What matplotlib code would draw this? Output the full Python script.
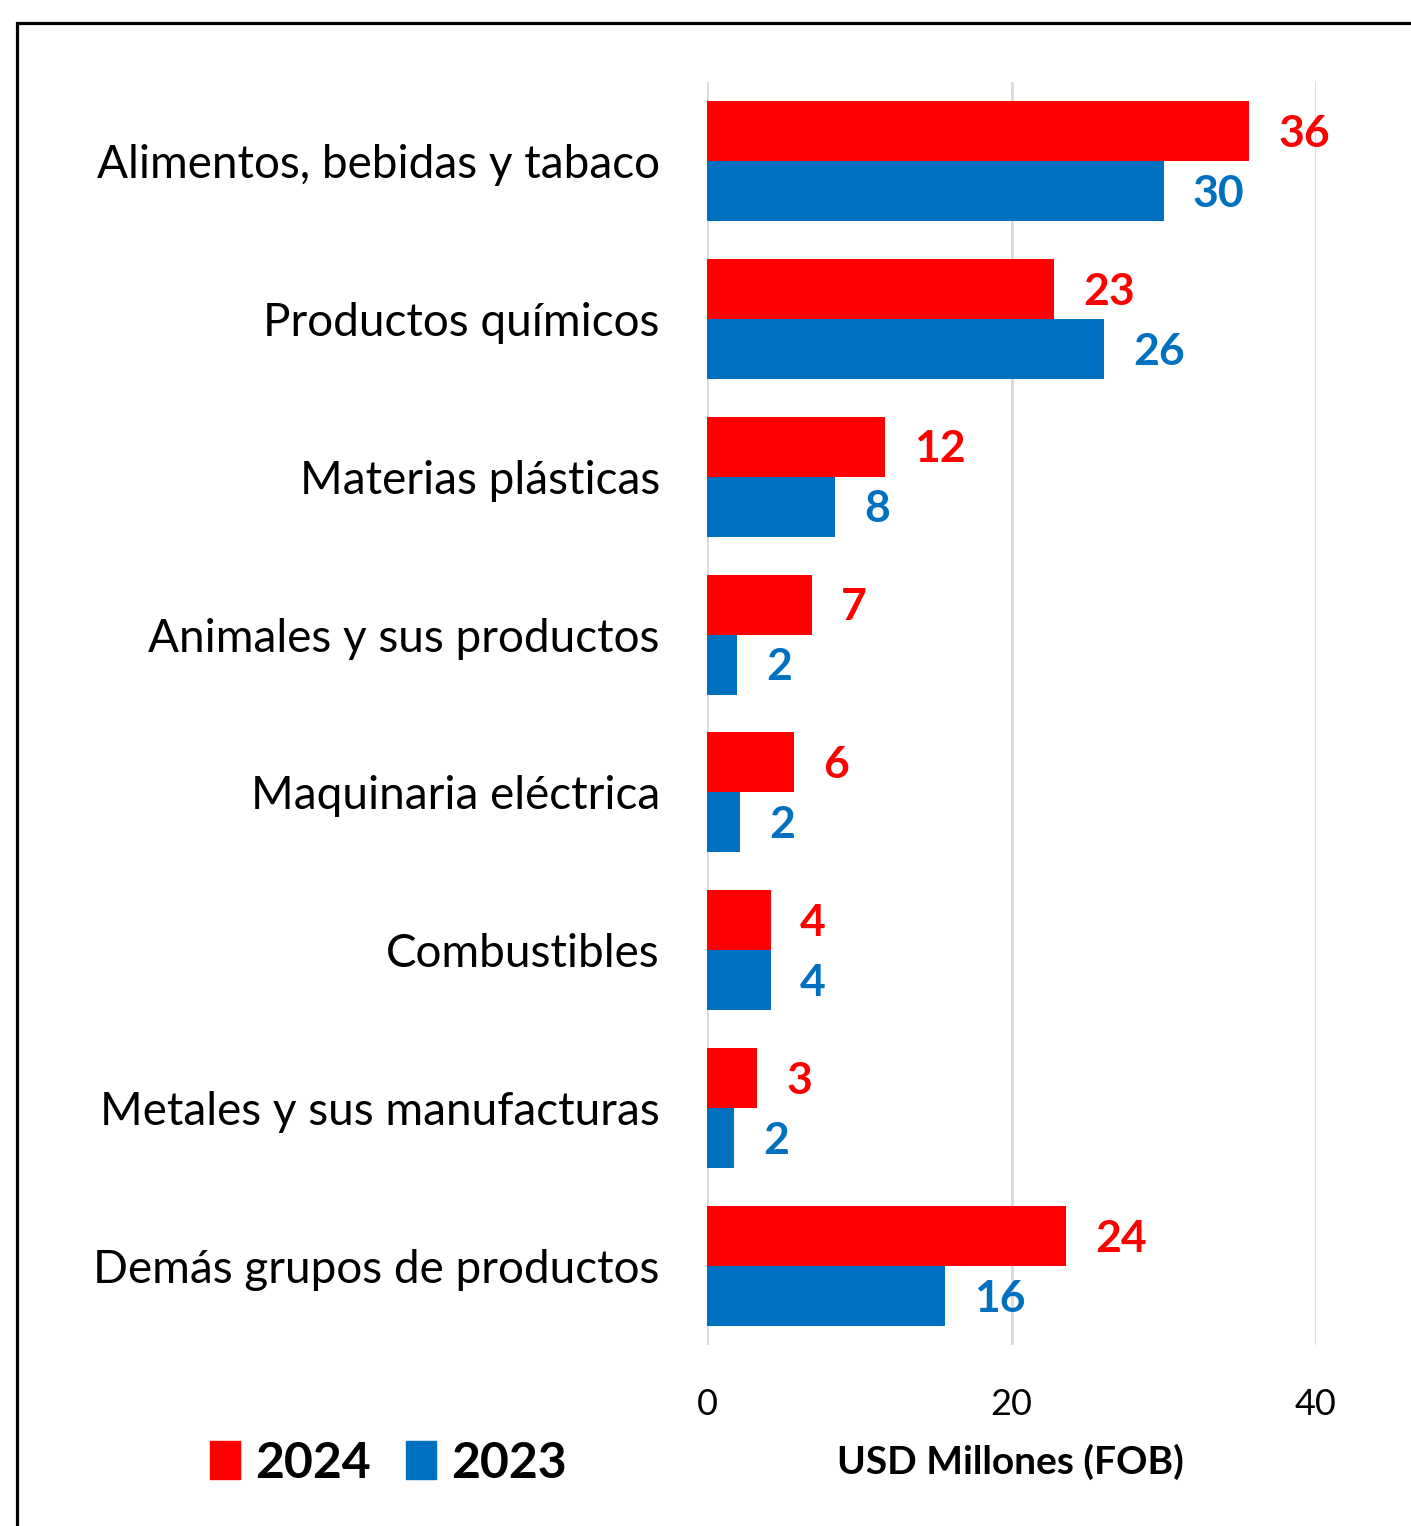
import matplotlib.pyplot as plt
from matplotlib.patches import Rectangle, Patch
import numpy as np

plt.rcParams['font.family'] = ['Lato', 'DejaVu Sans']

# Data
categories = ["Alimentos, bebidas y tabaco", "Productos químicos", "Materias plásticas",
              "Animales y sus productos", "Maquinaria eléctrica", "Combustibles",
              "Metales y sus manufacturas", "Demás grupos de productos"]
values_2024 = [35.6, 22.8, 11.7, 6.9, 5.7, 4.2, 3.3, 23.6]
values_2023 = [30.0, 26.1, 8.4, 2.0, 2.2, 4.2, 1.8, 15.6]
xticks = [0, 20, 40]

RED = "#FF0000"
BLUE = "#0070C0"

W, H = 1411, 1526
fig = plt.figure(figsize=(W / 100, H / 100), dpi=100)
ax = fig.add_axes([707 / W, 1 - 1345 / H, (1316 - 707) / W, (1345 - 82) / H])

y = np.arange(len(categories))
bh = 0.38
ax.barh(y - bh / 2, values_2024, bh, color=RED, zorder=3)
ax.barh(y + bh / 2, values_2023, bh, color=BLUE, zorder=3)

for yi, v in zip(y, values_2024):
    ax.annotate(f"{v:.0f}", (v, yi - bh / 2), xytext=(21, -2), textcoords="offset points",
                ha="left", va="center", color=RED, fontsize=32, fontweight="bold",
                annotation_clip=False)
for yi, v in zip(y, values_2023):
    ax.annotate(f"{v:.0f}", (v, yi + bh / 2), xytext=(21, -2), textcoords="offset points",
                ha="left", va="center", color=BLUE, fontsize=32, fontweight="bold",
                annotation_clip=False)

ax.set_ylim(len(categories) - 0.5, -0.5)
ax.set_xlim(0, 40)
ax.set_yticks(y)
ax.set_yticklabels(categories, fontsize=33)
ax.set_xticks(xticks)
ax.set_xticklabels([str(t) for t in xticks], fontsize=26)
ax.tick_params(axis="y", length=0, pad=34)
ax.tick_params(axis="x", length=0, pad=31)
for s in ax.spines.values():
    s.set_visible(False)
ax.grid(axis="x", color="#D9D9D9", linewidth=2, zorder=0)
ax.set_axisbelow(True)

fig.text(1010 / W, 1 - 1462 / H, "USD Millones (FOB)", ha="center", va="center",
         fontsize=28, fontweight="bold")

handles = [Patch(color=RED, label="2024"), Patch(color=BLUE, label="2023")]
leg = fig.legend(handles=handles, loc="center left", bbox_to_anchor=(210 / W, 1 - 1463 / H),
                 ncol=2, frameon=False, handlelength=0.6, handleheight=0.8,
                 handletextpad=0.3, columnspacing=0.7, borderaxespad=0, borderpad=0,
                 prop={"size": 36, "weight": "bold"})

fig.patches.append(Rectangle((17 / W, -0.1), 1.2, 1.1 - 23.5 / H, transform=fig.transFigure,
                             fill=False, edgecolor="black", linewidth=2.3))

fig.savefig("out.png", dpi=100)
